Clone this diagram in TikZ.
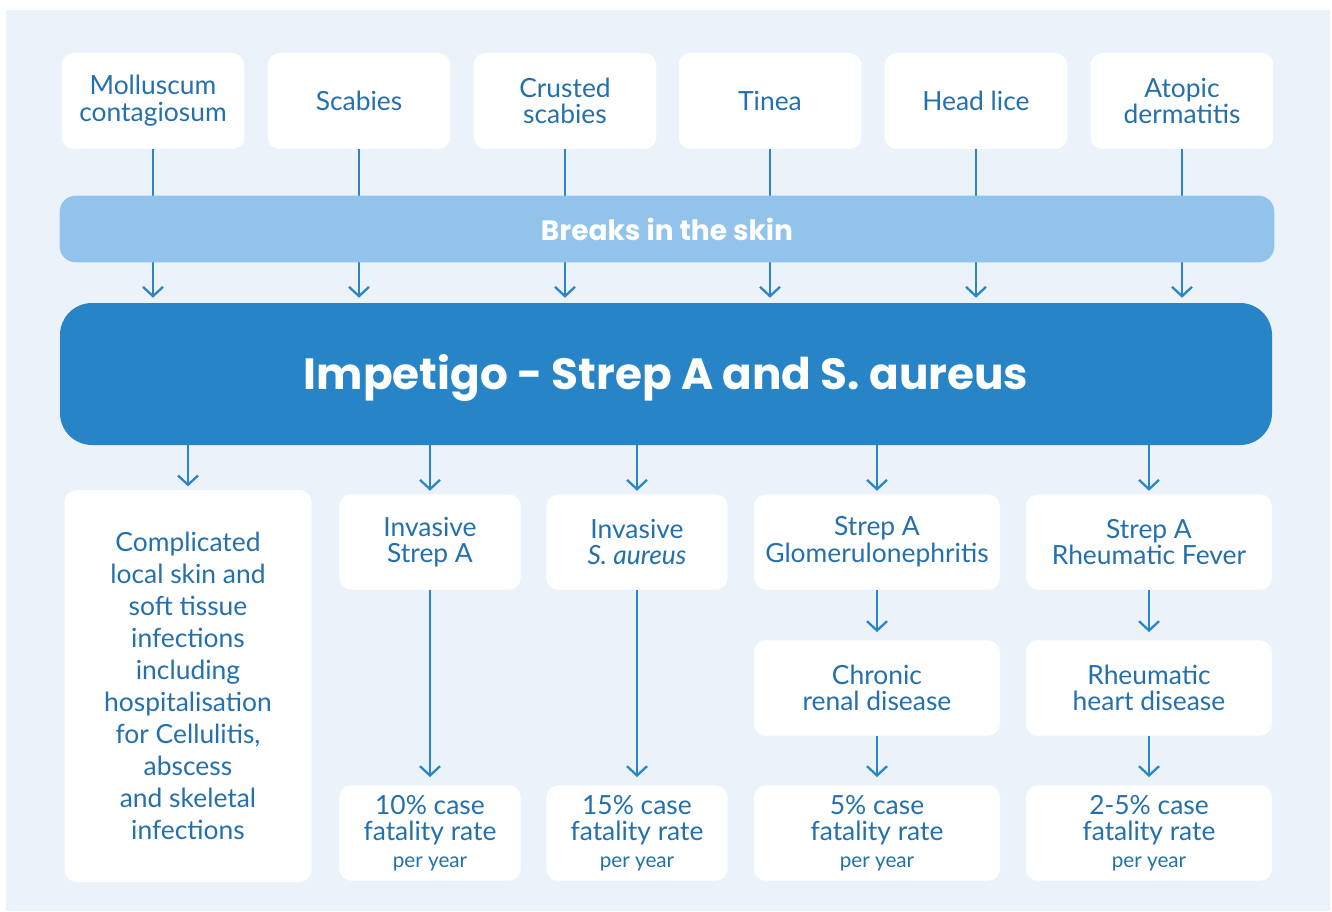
\documentclass[tikz,border=0pt]{standalone}
\usepackage{fontspec}
\setmainfont{Lato}
\newfontfamily\headfont{Poppins}
\usetikzlibrary{arrows.meta}
\definecolor{bg}{HTML}{EBF2FA}
\definecolor{txt}{HTML}{2470AE}
\definecolor{arr}{HTML}{2A85C7}
\definecolor{lightband}{HTML}{92C4EB}
\definecolor{mainband}{HTML}{2784C6}
\begin{document}
\begin{tikzpicture}[x=0.75pt,y=-0.75pt,
  card/.style={fill=white, rounded corners=9pt, text=txt, align=center, inner sep=0pt,
    font=\fontsize{19.8}{20}\selectfont},
  topcard/.style={card, minimum width=137pt, minimum height=72pt},
  smallcard/.style={card, minimum width=136pt, minimum height=71.5pt},
  widecard/.style={card, minimum width=184.5pt, minimum height=71.5pt},
  link/.style={draw=arr, line width=1.7pt, -{Straight Barb[length=7pt,width=15pt,line width=1.7pt]}},
]
\newcommand{\peryear}{{\fontsize{15.5}{16}\selectfont per year}}
\useasboundingbox (0,0) rectangle (1332,911);
\fill[bg] (6,10) rectangle (1330,911);

% top cards
\node[topcard] (t1) at (153,101) {Molluscum\\contagiosum};
\node[topcard] (t2) at (359,101) {Scabies};
\node[topcard] (t3) at (565,101) {Crusted\\scabies};
\node[topcard] (t4) at (770,101) {Tinea};
\node[topcard] (t5) at (976,101) {Head lice};
\node[topcard] (t6) at (1182,101) {Atopic\\dermatitis};

% main band
\node[fill=mainband, rounded corners=24pt, minimum width=909pt, minimum height=106.5pt, inner sep=0pt,
  text height=23pt, text depth=0pt,
  text=white, font=\headfont\bfseries\fontsize{32.8}{40}\selectfont] (main) at (666,374) {Impetigo - Strep A and S. aureus};

% arrows from top cards
\foreach \i in {1,...,6} {
  \draw[link, shorten >=3.75pt] (t\i.south) -- (t\i.south |- main.north);
}

% light band on top of lines
\node[fill=lightband, rounded corners=12pt, minimum width=911pt, minimum height=50pt, inner sep=0pt,
  text=white, font=\headfont\bfseries\fontsize{21}{24}\selectfont] (breaks) at (667,229) {Breaks in the skin};

% lower row
\node[card, minimum width=185pt, minimum height=294pt, font=\fontsize{19.8}{24}\selectfont] (l1) at (188,686)
  {Complicated\\local skin and\\soft tissue\\infections\\including\\hospitalisation\\for Cellulitis,\\abscess\\and skeletal\\infections};

\node[smallcard] (i1) at (430,542) {Invasive\\Strep A};
\node[smallcard] (i2) at (637,542) {Invasive\\\textit{S. aureus}};
\node[widecard] (g) at (877,542) {Strep A\\Glomerulonephritis};
\node[widecard] (r) at (1149,542) {Strep A\\Rheumatic Fever};
\node[widecard] (c) at (877,688) {Chronic\\renal disease};
\node[widecard] (h) at (1149,688) {Rheumatic\\heart disease};

\node[smallcard] (f1) at (430,833) {10\% case\\fatality rate\\\peryear};
\node[smallcard] (f2) at (637,833) {15\% case\\fatality rate\\\peryear};
\node[widecard] (f3) at (877,833) {5\% case\\fatality rate\\\peryear};
\node[widecard] (f4) at (1149,833) {2-5\% case\\fatality rate\\\peryear};

% arrows from main
\foreach \n in {l1,i1,i2,g,r} {
  \draw[link, shorten >=2.5pt] (main.south -| \n.north) -- (\n.north);
}
\draw[link, shorten >=6pt] (i1) -- (f1);
\draw[link, shorten >=6pt] (i2) -- (f2);
\draw[link, shorten >=6pt] (g) -- (c);
\draw[link, shorten >=6pt] (c) -- (f3);
\draw[link, shorten >=6pt] (r) -- (h);
\draw[link, shorten >=6pt] (h) -- (f4);
\end{tikzpicture}
\end{document}
